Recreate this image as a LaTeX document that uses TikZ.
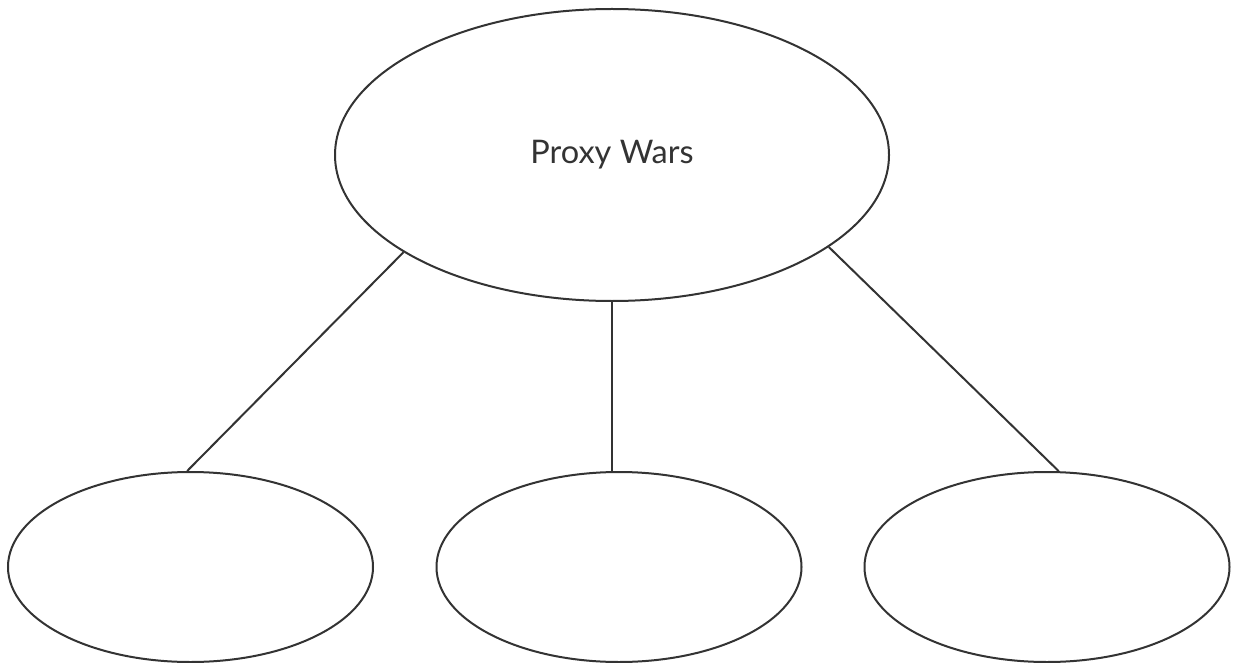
\documentclass[tikz,border=0pt]{standalone}
\usepackage{fontspec}
\setmainfont{Lato}
\usetikzlibrary{shapes.geometric}
\definecolor{ink}{HTML}{333333}
\tikzset{
  bubble/.style={draw=ink, line width=2pt, ellipse, inner sep=0pt, text=ink},
  link/.style={draw=ink, line width=2pt}
}
\begin{document}
\begin{tikzpicture}[x=1pt,y=-1pt]
\useasboundingbox (0,0) rectangle (1236,663);
\node[bubble, minimum width=554pt, minimum height=292pt, font=\fontsize{32.5}{38}\selectfont] (top) at (612,155) {Proxy Wars};
\node[bubble, minimum width=365pt, minimum height=190pt] (b1) at (190.5,567) {};
\node[bubble, minimum width=365pt, minimum height=190pt] (b2) at (619,567) {};
\node[bubble, minimum width=365pt, minimum height=190pt] (b3) at (1047,567) {};
\draw[link] (top.205.6) -- (b1.92.7);
\draw[link] (top.south -| b2.94) -- (b2.94);
\draw[link] (top.337.4) -- (b3.83.4);
\end{tikzpicture}
\end{document}
